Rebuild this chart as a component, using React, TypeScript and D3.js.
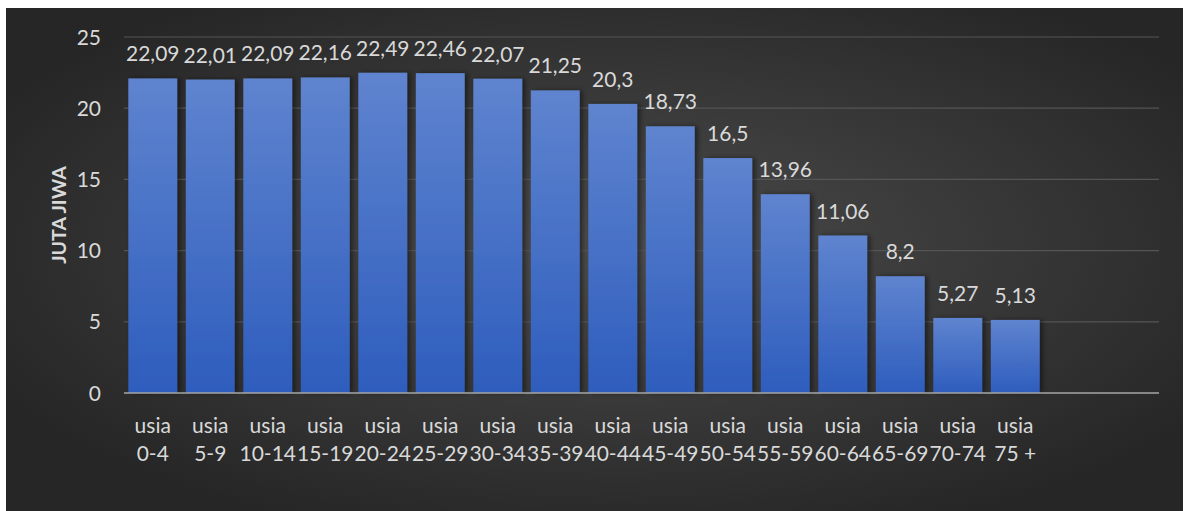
import React from "react";
import * as d3 from "d3";

const categories = [
  ["usia", "0-4"], ["usia", "5-9"], ["usia", "10-14"], ["usia", "15-19"],
  ["usia", "20-24"], ["usia", "25-29"], ["usia", "30-34"], ["usia", "35-39"],
  ["usia", "40-44"], ["usia", "45-49"], ["usia", "50-54"], ["usia", "55-59"],
  ["usia", "60-64"], ["usia", "65-69"], ["usia", "70-74"], ["usia", "75 +"],
  ["", ""], ["", ""],
];
const values: (number | null)[] = [
  22.09, 22.01, 22.09, 22.16, 22.49, 22.46, 22.07, 21.25, 20.3, 18.73,
  16.5, 13.96, 11.06, 8.2, 5.27, 5.13, null, null,
];
const labels = [
  "22,09", "22,01", "22,09", "22,16", "22,49", "22,46", "22,07", "21,25", "20,3", "18,73",
  "16,5", "13,96", "11,06", "8,2", "5,27", "5,13", "", "",
];
const yTicks = [0, 5, 10, 15, 20, 25];
const yTitle = "JUTA JIWA";

const W = 1185, H = 511;
const plot = { left: 124, right: 1159, top: 37, bottom: 393 };
const font = "Lato, Carlito, Calibri, sans-serif";
const txt = "#d9d9d9";
const fs = 21;

export default function App() {
  const x = d3.scaleBand<number>()
    .domain(categories.map((_, i) => i))
    .range([plot.left, plot.right])
    .paddingInner(0.15)
    .paddingOuter(0.075);
  const y = d3.scaleLinear().domain([0, 25]).range([plot.bottom, plot.top]);
  const cx = (i: number) => (x(i) as number) + x.bandwidth() / 2;

  return (
    <svg width={W} height={H} style={{ position: "absolute", left: 0, top: 0, background: "#fff" }}>
      <defs>
        <radialGradient id="bg" cx="52%" cy="48%" r="60%">
          <stop offset="0%" stopColor="#4c4c4c" />
          <stop offset="100%" stopColor="#262626" />
        </radialGradient>
        <linearGradient id="bar" x1="0" y1="0" x2="0" y2="1">
          <stop offset="0%" stopColor="#5f84cf" />
          <stop offset="100%" stopColor="#2e5dbd" />
        </linearGradient>
        <filter id="sh" x="-20%" y="-5%" width="150%" height="110%">
          <feDropShadow dx="3" dy="0" stdDeviation="2.5" floodColor="#000" floodOpacity="0.45" />
        </filter>
      </defs>
      <rect x={6} y={8} width={1177} height={H - 8} fill="url(#bg)" />
      {yTicks.filter(t => t > 0).map(t => (
        <line key={t} x1={plot.left} x2={plot.right} y1={y(t)} y2={y(t)} stroke="#555" strokeWidth={1.2} />
      ))}
      {values.map((v, i) => v == null ? null : (
        <rect key={i} x={x(i)} y={y(v)} width={x.bandwidth()} height={y(0) - y(v)}
          fill="url(#bar)" filter="url(#sh)" />
      ))}
      <line x1={plot.left} x2={plot.right} y1={y(0)} y2={y(0)} stroke="#a6a6a6" strokeWidth={1.6} />
      {yTicks.map(t => (
        <text key={t} x={101} y={y(t) + 7.5} textAnchor="end" fill={txt} fontFamily={font} fontSize={fs}>{t}</text>
      ))}
      {values.map((v, i) => v == null ? null : (
        <text key={i} x={cx(i)} y={y(v) - 17} textAnchor="middle"
          fill={txt} fontFamily={font} fontSize={fs}>{labels[i]}</text>
      ))}
      {categories.map((c, i) => (
        <text key={i} textAnchor="middle" fill={txt} fontFamily={font} fontSize={fs}>
          <tspan x={cx(i)} y={433}>{c[0]}</tspan>
          <tspan x={cx(i)} y={461}>{c[1]}</tspan>
        </text>
      ))}
      <text transform={`translate(66,${(plot.top + plot.bottom) / 2}) rotate(-90)`} textAnchor="middle"
        fill={txt} fontFamily={font} fontSize={19.5} fontWeight="bold">{yTitle}</text>
    </svg>
  );
}
